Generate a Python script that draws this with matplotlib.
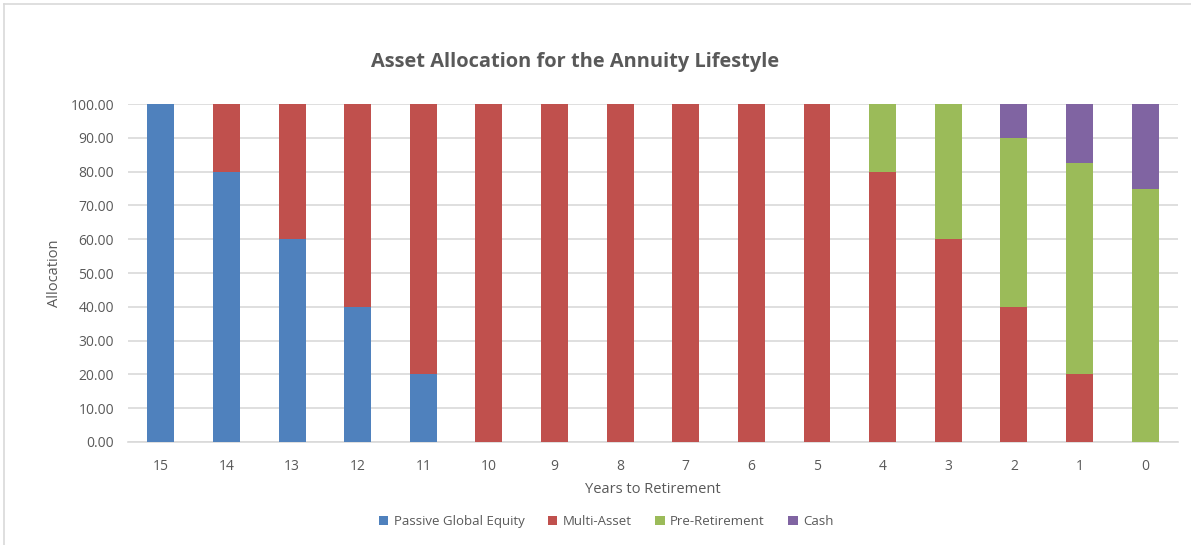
import numpy as np
import matplotlib.pyplot as plt
from matplotlib.lines import Line2D

plt.rcParams['font.family'] = ['Open Sans', 'DejaVu Sans']

years = ['15', '14', '13', '12', '11', '10', '9', '8', '7', '6', '5', '4', '3', '2', '1', '0']
passive_equity = [100, 80, 60, 40, 20, 0, 0, 0, 0, 0, 0, 0, 0, 0, 0, 0]
multi_asset    = [0, 20, 40, 60, 80, 100, 100, 100, 100, 100, 100, 80, 60, 40, 20, 0]
pre_retirement = [0, 0, 0, 0, 0, 0, 0, 0, 0, 0, 0, 20, 40, 50, 62.5, 75]
cash           = [0, 0, 0, 0, 0, 0, 0, 0, 0, 0, 0, 0, 0, 10, 17.5, 25]

series = [('Passive Global Equity', passive_equity, '#4F81BD'),
          ('Multi-Asset', multi_asset, '#C0504D'),
          ('Pre-Retirement', pre_retirement, '#9BBB59'),
          ('Cash', cash, '#8064A2')]

txt = '#595959'
grid = '#D9D9D9'

fig = plt.figure(figsize=(11.91, 5.45), dpi=100)
ax = fig.add_axes([0.1075, 0.189, 0.8815, 0.620])

x = np.arange(len(years))
bottom = np.zeros(len(years))
for name, vals, col in series:
    vals = np.array(vals, dtype=float)
    ax.bar(x, vals, 0.41, bottom=bottom, color=col, label=name, zorder=3)
    bottom += vals

ax.set_xlim(-0.5, len(years) - 0.5)
ax.set_ylim(0, 100)
ax.set_yticks(np.arange(0, 101, 10))
ax.set_yticklabels(['%.2f' % v for v in np.arange(0, 101, 10)])
ax.set_xticks(x)
ax.set_xticklabels(years)
ax.yaxis.grid(True, color=grid, linewidth=1.2, zorder=0)
for s in ['top', 'right', 'left']:
    ax.spines[s].set_visible(False)
ax.spines['bottom'].set_color(grid)
ax.spines['bottom'].set_linewidth(1.2)
ax.tick_params(axis='both', length=0, labelsize=10, colors=txt)
ax.tick_params(axis='x', pad=12)
ax.tick_params(axis='y', pad=10)

ax.set_xlabel('Years to Retirement', fontsize=10.5, color=txt, labelpad=6)
ax.set_ylabel('Allocation', fontsize=10.5, color=txt, labelpad=6)
fig.text(0.483, 0.886, 'Asset Allocation for the Annuity Lifestyle', ha='center', va='center',
         fontsize=14.4, fontweight='bold', color=txt)

handles, labels = ax.get_legend_handles_labels()
fig.legend(handles, labels, loc='center', bbox_to_anchor=(0.509, 0.043), ncol=4, frameon=False,
           fontsize=9.5, labelcolor=txt, handlelength=0.7, handleheight=0.7,
           handletextpad=0.4, columnspacing=1.8)

# chart border (left / top edges visible)
fig.add_artist(Line2D([0.0035, 0.0035], [0, 0.993], color=grid, linewidth=1.2))
fig.add_artist(Line2D([0.0035, 1], [0.993, 0.993], color=grid, linewidth=1.2))

fig.savefig('out.png', dpi=100)
plt.close(fig)
